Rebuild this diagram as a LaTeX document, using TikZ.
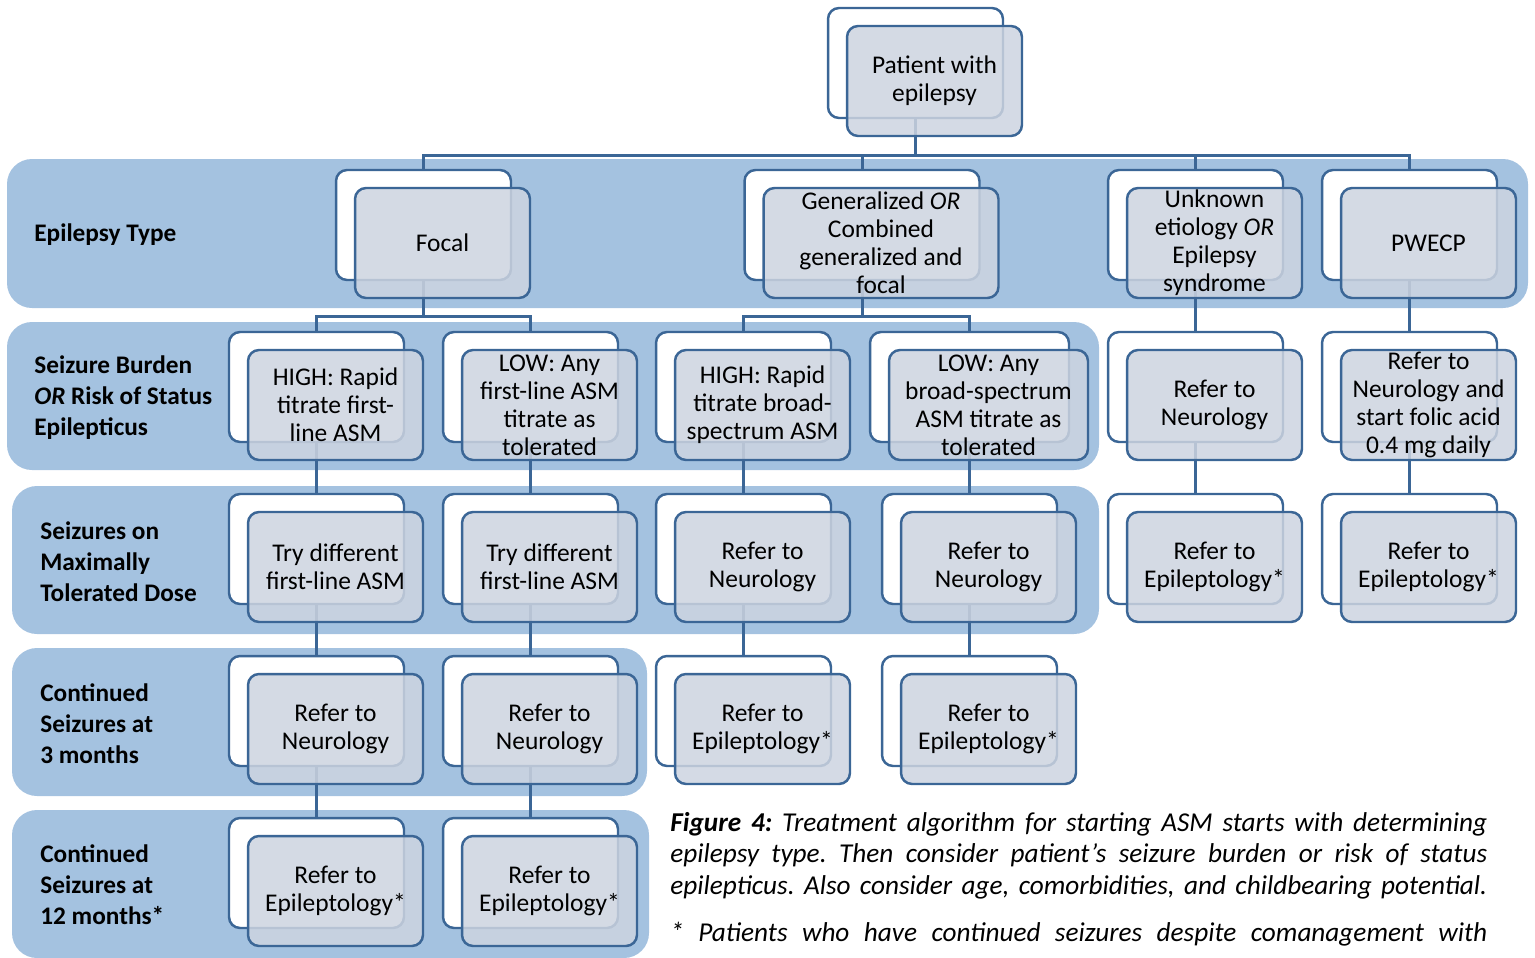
\documentclass[tikz,border=0pt]{standalone}
\usepackage{fontspec}
\setmainfont{Carlito}
\usepackage{xcolor}
\usepackage{tikz}

\definecolor{bandblue}{HTML}{A4C2E0}
\definecolor{boxline}{HTML}{3B6696}
\definecolor{boxfill}{HTML}{CDD4E0}

\begin{document}
\frenchspacing
\begin{tikzpicture}[
  x=0.02cm, y=-0.02cm,
  band/.style={fill=bandblue, rounded corners=0.5cm},
  back/.style={draw=boxline, fill=white, line width=1.4pt, rounded corners=0.22cm,
               minimum width=3.5cm, minimum height=2.2cm, inner sep=0pt},
  front/.style={back, fill=boxfill, fill opacity=0.85, text opacity=1,
                align=center, font=\fontsize{14.5}{16}\selectfont},
  conn/.style={draw=boxline, line width=1.7pt},
  lbl/.style={anchor=west, align=left, inner sep=0pt,
              font=\fontsize{14.4}{17.6}\selectfont\bfseries}
]
  \useasboundingbox (0,0) rectangle (1535,957);

  % Bands
  \fill[band] (7,159)  rectangle (1528,308);
  \fill[band] (7,322)  rectangle (1099,470);
  \fill[band] (12,486) rectangle (1099,634);
  \fill[band] (12,648) rectangle (647,796);
  \fill[band] (12,810) rectangle (649,958);

  % Band labels
  \node[lbl] (ltype)  at (34,235) {Epilepsy Type};
  \node[lbl] (lburd)  at (34,398) {Seizure Burden\\\textit{OR} Risk of Status\\Epilepticus};
  \node[lbl] (ldose)  at (40,562) {Seizures on\\Maximally\\Tolerated Dose};
  \node[lbl] (lthree) at (40,724) {Continued\\Seizures at\\3 months};
  \node[lbl] (ltwlv)  at (40,885) {Continued\\Seizures at\\12 months*};

  % Back boxes -- row 0
  \node[back] (pat)  at (915.5,63) {};

  % Back boxes -- row 1
  \node[back] (foc)  at (423.5,225) {};
  \node[back, minimum width=4.7cm] (gen) at (862,225) {};
  \node[back] (unk)  at (1195.5,225) {};
  \node[back] (pwe)  at (1409.5,225) {};

  % Back boxes -- row 2
  \node[back] (hifl) at (316.5,387) {};
  \node[back] (lofl) at (530.5,387) {};
  \node[back] (hibs) at (743.5,387) {};
  \node[back, minimum width=3.98cm] (lobs) at (969.5,387) {};
  \node[back] (neuu) at (1195.5,387) {};
  \node[back] (neup) at (1409.5,387) {};

  % Back boxes -- row 3
  \node[back] (try1)  at (316.5,549) {};
  \node[back] (try2)  at (530.5,549) {};
  \node[back] (neug1) at (743.5,549) {};
  \node[back] (neug2) at (969.5,549) {};
  \node[back] (epiu)  at (1195.5,549) {};
  \node[back] (epip)  at (1409.5,549) {};

  % Back boxes -- row 4
  \node[back] (neuf1) at (316.5,711) {};
  \node[back] (neuf2) at (530.5,711) {};
  \node[back] (epig1) at (743.5,711) {};
  \node[back] (epig2) at (969.5,711) {};

  % Back boxes -- row 5
  \node[back] (epif1) at (316.5,873) {};
  \node[back] (epif2) at (530.5,873) {};

  % Connectors
  \draw[conn] (pat.south) -- ++(0,36) -| (foc.north);
  \draw[conn] (pat.south) -- ++(0,36) -| (gen.north);
  \draw[conn] (pat.south) -- ++(0,36) -| (unk.north);
  \draw[conn] (pat.south) -- ++(0,36) -| (pwe.north);
  \draw[conn] (foc.south) -- ++(0,35) -| (hifl.north);
  \draw[conn] (foc.south) -- ++(0,35) -| (lofl.north);
  \draw[conn] (gen.south) -- ++(0,35) -| (hibs.north);
  \draw[conn] (gen.south) -- ++(0,35) -| (lobs.north);
  \draw[conn] (unk)   -- (neuu);
  \draw[conn] (pwe)   -- (neup);
  \draw[conn] (hifl)  -- (try1);
  \draw[conn] (lofl)  -- (try2);
  \draw[conn] (hibs)  -- (neug1);
  \draw[conn] (lobs)  -- (neug2);
  \draw[conn] (neuu)  -- (epiu);
  \draw[conn] (neup)  -- (epip);
  \draw[conn] (try1)  -- (neuf1);
  \draw[conn] (try2)  -- (neuf2);
  \draw[conn] (neug1) -- (epig1);
  \draw[conn] (neug2) -- (epig2);
  \draw[conn] (neuf1) -- (epif1);
  \draw[conn] (neuf2) -- (epif2);

  % Front boxes
  \node[front] (patF)   at ([shift={(19,18)}]pat.center)   {Patient with\\epilepsy};
  \node[front] (focF)   at ([shift={(19,18)}]foc.center)   {Focal};
  \node[front, minimum width=4.7cm] (genF) at ([shift={(19,18)}]gen.center)
               {Generalized \textit{OR}\\Combined\\generalized and\\focal};
  \node[front] (unkF)   at ([shift={(19,18)}]unk.center)   {Unknown\\etiology \textit{OR}\\Epilepsy\\syndrome};
  \node[front] (pweF)   at ([shift={(19,18)}]pwe.center)   {PWECP};

  \node[front] (hiflF)  at ([shift={(19,18)}]hifl.center)  {HIGH: Rapid\\titrate first-\\line ASM};
  \node[front] (loflF)  at ([shift={(19,18)}]lofl.center)  {LOW: Any\\first-line ASM\\titrate as\\tolerated};
  \node[front] (hibsF)  at ([shift={(19,18)}]hibs.center)  {HIGH: Rapid\\titrate broad-\\spectrum ASM};
  \node[front, minimum width=3.98cm] (lobsF) at ([shift={(19,18)}]lobs.center)
               {LOW: Any\\broad-spectrum\\ASM titrate as\\tolerated};
  \node[front] (neuuF)  at ([shift={(19,18)}]neuu.center)  {Refer to\\Neurology};
  \node[front] (neupF)  at ([shift={(19,18)}]neup.center)  {Refer to\\Neurology and\\start folic acid\\0.4 mg daily};

  \node[front] (try1F)  at ([shift={(19,18)}]try1.center)  {Try different\\first-line ASM};
  \node[front] (try2F)  at ([shift={(19,18)}]try2.center)  {Try different\\first-line ASM};
  \node[front] (neug1F) at ([shift={(19,18)}]neug1.center) {Refer to\\Neurology};
  \node[front] (neug2F) at ([shift={(19,18)}]neug2.center) {Refer to\\Neurology};
  \node[front] (epiuF)  at ([shift={(19,18)}]epiu.center)  {Refer to\\Epileptology*};
  \node[front] (epipF)  at ([shift={(19,18)}]epip.center)  {Refer to\\Epileptology*};

  \node[front] (neuf1F) at ([shift={(19,18)}]neuf1.center) {Refer to\\Neurology};
  \node[front] (neuf2F) at ([shift={(19,18)}]neuf2.center) {Refer to\\Neurology};
  \node[front] (epig1F) at ([shift={(19,18)}]epig1.center) {Refer to\\Epileptology*};
  \node[front] (epig2F) at ([shift={(19,18)}]epig2.center) {Refer to\\Epileptology*};

  \node[front] (epif1F) at ([shift={(19,18)}]epif1.center) {Refer to\\Epileptology*};
  \node[front] (epif2F) at ([shift={(19,18)}]epif2.center) {Refer to\\Epileptology*};

  % Caption
  \node[anchor=north west, inner sep=0pt, text width=16.34cm, align=justify,
        font=\fontsize{15.5}{17.9}\selectfont\itshape] (cap) at (670,812)
    {\parfillskip=0pt
     \textbf{Figure 4:} Treatment algorithm for starting ASM starts with determining
     epilepsy type. Then consider patient’s seizure burden or risk of status
     epilepticus. Also consider age, comorbidities, and childbearing potential.\par
     \vspace{9pt}
     * Patients who have continued seizures despite comanagement with\par};
\end{tikzpicture}
\end{document}
